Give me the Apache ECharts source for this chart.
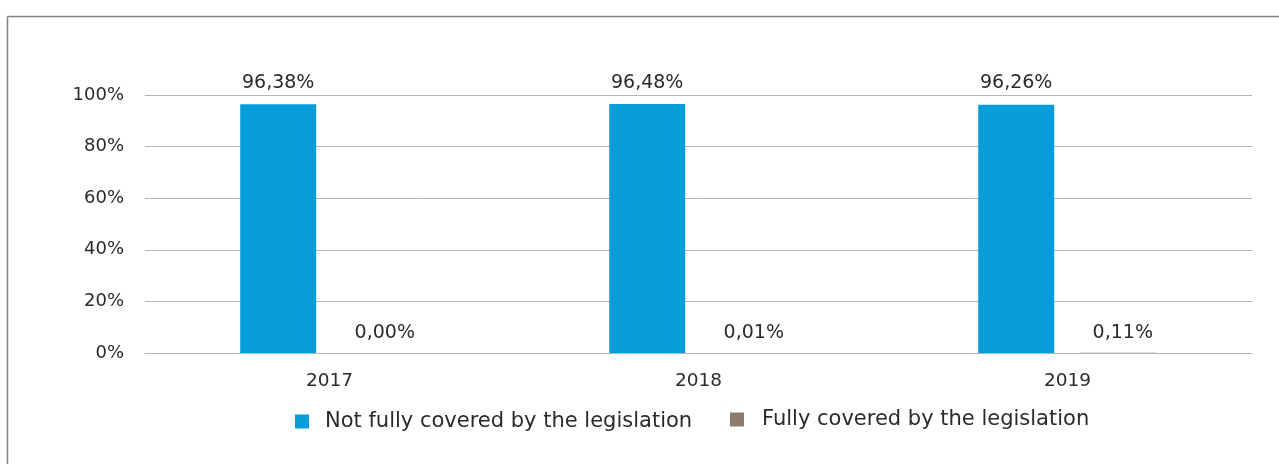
<!DOCTYPE html>
<html>
<head>
<meta charset="utf-8">
<script src="https://cdn.jsdelivr.net/npm/echarts@6/dist/echarts.min.js"></script>
<style>
  html, body { margin: 0; padding: 0; background: #ffffff; }
  #chart { width: 1279px; height: 464px; }
</style>
</head>
<body>
<div id="chart"></div>
<script>
// Share of cases by legislative coverage, per year (in %)
const years = ['2017', '2018', '2019'];
const notFullyCovered = [96.38, 96.48, 96.26];
const fullyCovered = [0.00, 0.01, 0.11];
const seriesNames = ['Not fully covered by the legislation', 'Fully covered by the legislation'];

const FONT = 'DejaVu Sans';
const TEXT = '#2b2b2b';
const GRID_LINE = '#b4b4b4';
const BLUE = '#079ddb';
const TAUPE = '#8c7b6a';

const pct = v => v.toFixed(2).replace('.', ',') + '%';

const chart = echarts.init(document.getElementById('chart'), null, { renderer: 'canvas' });

chart.setOption({
  animation: false,
  backgroundColor: '#ffffff',
  textStyle: { fontFamily: FONT },
  graphic: [
    { type: 'line', silent: true, shape: { x1: 7.5, y1: 16.5, x2: 1279, y2: 16.5 },
      style: { stroke: '#808080', lineWidth: 1.5 } },
    { type: 'line', silent: true, shape: { x1: 7.5, y1: 16.5, x2: 7.5, y2: 464 },
      style: { stroke: '#808080', lineWidth: 1.5 } }
  ],
  grid: { left: 145, right: 27, top: 95, bottom: 111, containLabel: false },
  legend: [
    {
      data: [seriesNames[0]],
      left: 295, top: 411, padding: 0,
      icon: 'rect', itemWidth: 14, itemHeight: 14,
      textStyle: { fontFamily: FONT, fontSize: 21, color: TEXT, padding: [0, 0, 10, 11] }
    },
    {
      data: [seriesNames[1]],
      left: 730, top: 409, padding: 0,
      icon: 'rect', itemWidth: 14, itemHeight: 14,
      textStyle: { fontFamily: FONT, fontSize: 21, color: TEXT, padding: [0, 0, 10, 13] }
    }
  ],
  xAxis: {
    type: 'category',
    data: years,
    axisLine: { show: true, lineStyle: { color: GRID_LINE, width: 1 } },
    axisTick: { show: false },
    axisLabel: { fontFamily: FONT, fontSize: 18.5, color: TEXT, margin: 19 }
  },
  yAxis: {
    type: 'value',
    min: 0, max: 100, interval: 20,
    axisLine: { show: false },
    axisTick: { show: false },
    splitLine: { lineStyle: { color: GRID_LINE, width: 1 } },
    axisLabel: { fontFamily: FONT, fontSize: 18, color: TEXT, margin: 21, formatter: '{value}%' }
  },
  series: [
    {
      name: seriesNames[0],
      type: 'bar',
      data: notFullyCovered,
      barWidth: 76,
      barGap: '35%',
      itemStyle: { color: BLUE },
      label: {
        show: true, position: 'top', distance: 12,
        fontFamily: FONT, fontSize: 19, color: TEXT,
        formatter: p => pct(p.value)
      }
    },
    {
      name: seriesNames[1],
      type: 'bar',
      data: fullyCovered,
      barWidth: 76,
      barGap: '35%',
      itemStyle: { color: TAUPE },
      label: {
        show: true, position: 'top', distance: 10, offset: [4, 0],
        fontFamily: FONT, fontSize: 19, color: TEXT,
        formatter: p => pct(p.value)
      }
    }
  ]
});
</script>
</body>
</html>
